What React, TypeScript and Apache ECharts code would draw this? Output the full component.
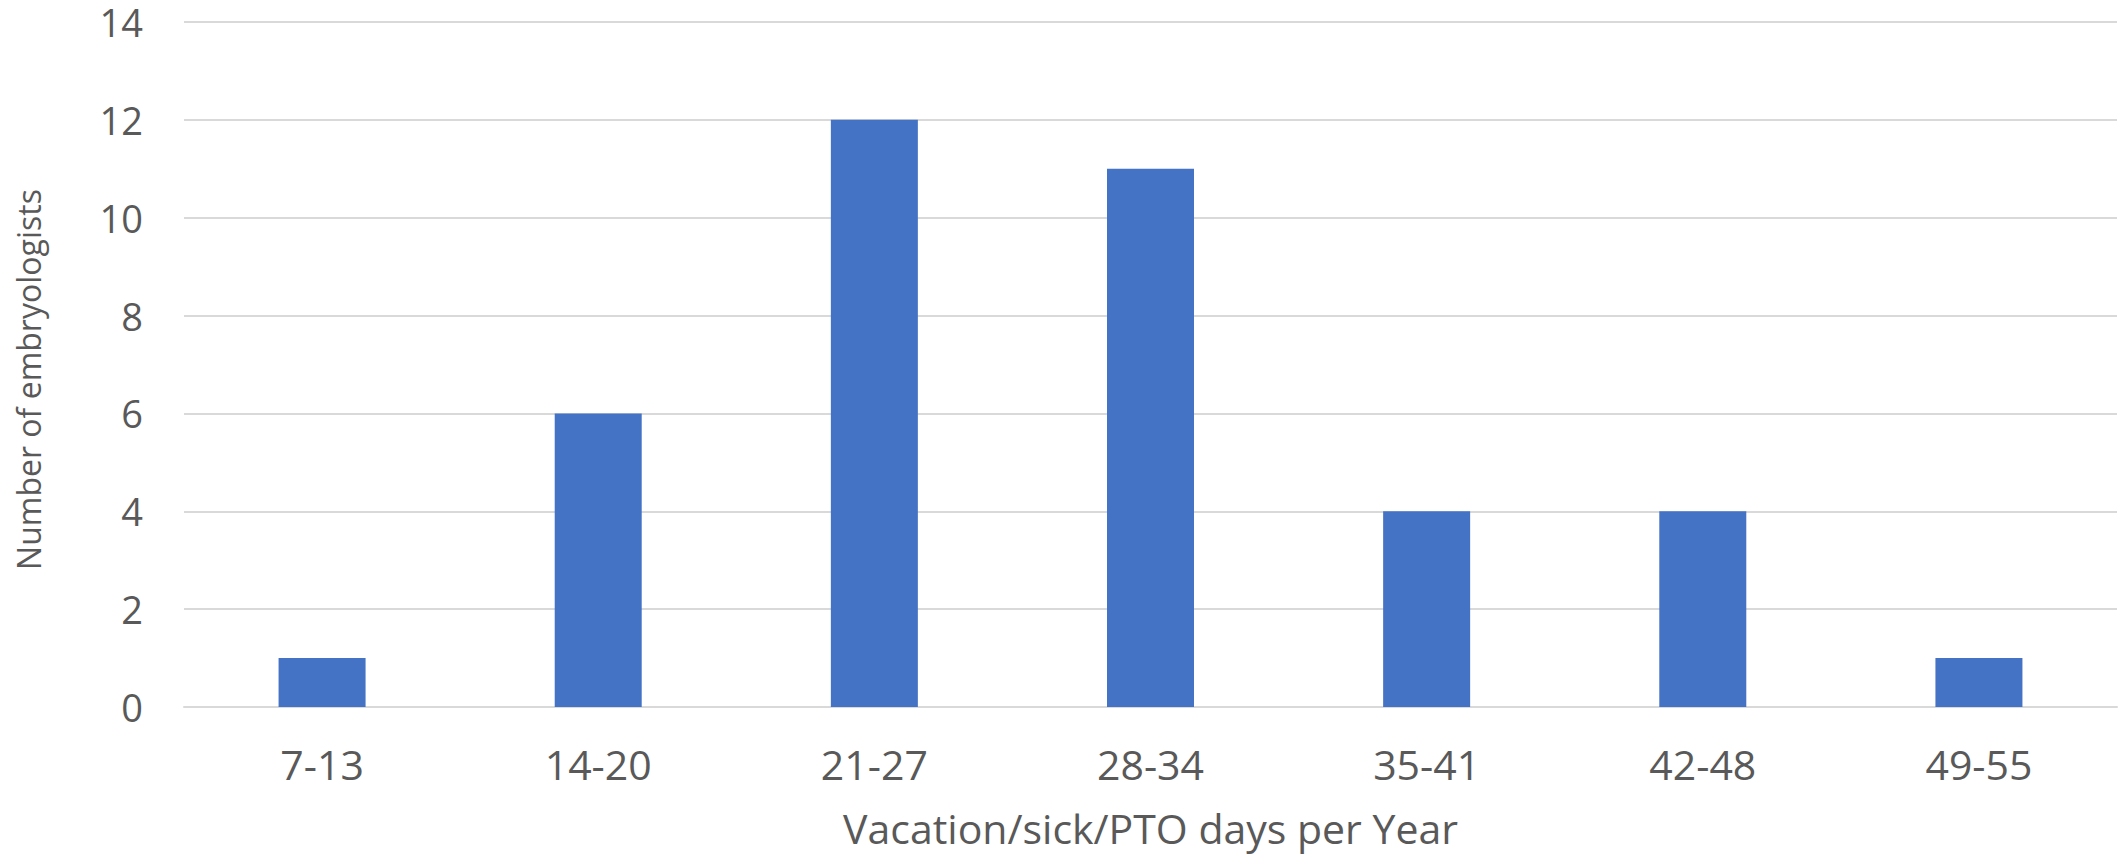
import React, { useEffect, useRef } from "react";
import * as echarts from "echarts";

const categories = ["7-13", "14-20", "21-27", "28-34", "35-41", "42-48", "49-55"];
const counts = [1, 6, 12, 11, 4, 4, 1];
const yTicks = { min: 0, max: 14, interval: 2 };
const xTitle = "Vacation/sick/PTO days per Year";
const yTitle = "Number of embryologists";

const FONT = "'Open Sans', 'Noto Sans', sans-serif";
const TEXT = "#595959";
const GRID = "#d9d9d9";

export default function App() {
  const ref = useRef<HTMLDivElement>(null);
  useEffect(() => {
    document.body.style.margin = "0";
    const chart = echarts.init(ref.current!, null, { renderer: "svg" });
    chart.setOption({
      animation: false,
      backgroundColor: "#ffffff",
      grid: { left: 184, right: 2, top: 22, bottom: 152, containLabel: false },
      xAxis: {
        type: "category",
        data: categories,
        axisTick: { show: false },
        axisLine: { show: true, lineStyle: { color: GRID, width: 2 } },
        axisLabel: { color: TEXT, fontFamily: FONT, fontSize: 41, margin: 36 },
        name: xTitle,
        nameLocation: "middle",
        nameGap: 100,
        nameTextStyle: { color: TEXT, fontFamily: FONT, fontSize: 41 },
      },
      yAxis: {
        type: "value",
        min: yTicks.min,
        max: yTicks.max,
        interval: yTicks.interval,
        axisLine: { show: false },
        axisTick: { show: false },
        splitLine: { lineStyle: { color: GRID, width: 2 } },
        axisLabel: { color: TEXT, fontFamily: FONT, fontSize: 38, lineHeight: 38, margin: 41 },
        name: yTitle,
        nameLocation: "middle",
        nameGap: 140,
        nameTextStyle: { color: TEXT, fontFamily: FONT, fontSize: 32, padding: [0, 30, 0, 0] },
      },
      series: [
        {
          type: "bar",
          data: counts,
          barWidth: 87,
          itemStyle: { color: "#4472C4" },
        },
      ],
    });
    return () => chart.dispose();
  }, []);
  return <div ref={ref} style={{ width: 2119, height: 859 }} />;
}
